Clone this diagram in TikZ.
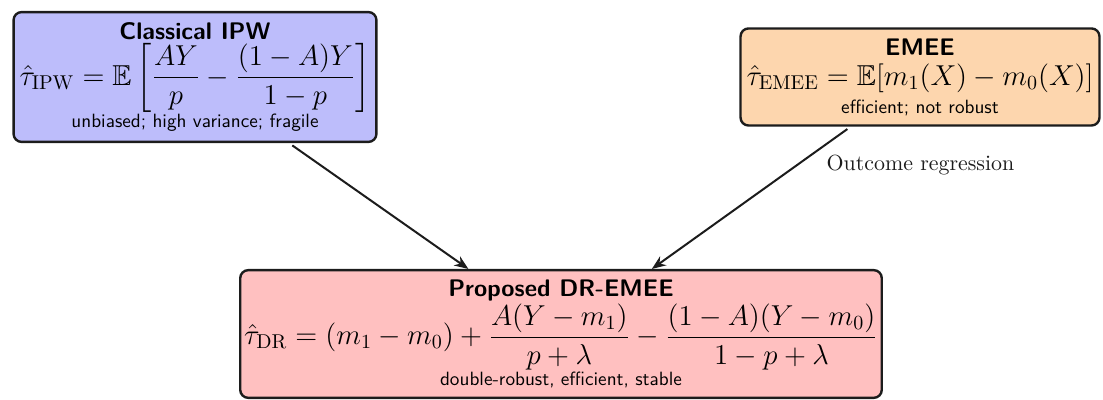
\documentclass[tikz,border=0pt]{standalone}
\usepackage{amsmath,amssymb}
\usepackage{xcolor}
\usepackage{tikz}
\usetikzlibrary{arrows.meta,positioning}
\definecolor{BoxIPW}{HTML}{BDBDFB}
\definecolor{BoxEMEE}{HTML}{FDD6AE}
\definecolor{BoxDR}{HTML}{FFC0C0}
\definecolor{BoxInk}{HTML}{1C1C1C}
\newcommand{\boxnote}{\fontsize{9.6}{11.5}\selectfont}

\begin{document}
\begin{tikzpicture}[x=0.5pt,y=0.5pt,>={Stealth[length=7pt,width=5.5pt]},
    estbox/.style={draw=BoxInk,line width=1.2pt,rounded corners=4pt,
      align=center,inner xsep=3pt,inner ysep=5pt,font=\sffamily},
    flow/.style={->,BoxInk,line width=1pt,shorten <=2pt}]
  \useasboundingbox (0,0) rectangle (1103,400);
  % the three estimators
  \node[estbox,fill=BoxIPW] (ipw) at (195,323)
    {{\large\bfseries Classical IPW}\\[1pt]
     {\Large $\displaystyle\hat{\tau}_{\mathrm{IPW}}=\mathbb{E}\left[\frac{AY}{p}-\frac{(1-A)Y}{1-p}\right]$}\\
     {\boxnote unbiased; high variance; fragile}};
  \node[estbox,fill=BoxEMEE] (emee) at (920,323)
    {{\large\bfseries EMEE}\\[3pt]
     {\Large $\hat{\tau}_{\mathrm{EMEE}}=\mathbb{E}[m_1(X)-m_0(X)]$}\\[2pt]
     {\boxnote efficient; not robust}};
  \node[estbox,fill=BoxDR,inner xsep=2pt] (dr) at (561,66)
    {{\large\bfseries Proposed DR-EMEE}\\
     {\Large $\displaystyle\hat{\tau}_{\mathrm{DR}}=(m_1-m_0)+\frac{A(Y-m_1)}{p+\lambda}-\frac{(1-A)(Y-m_0)}{1-p+\lambda}$}\\
     {\boxnote double-robust, efficient, stable}};
  % arrows into the proposed estimator
  \draw[flow] (ipw) -- (dr);
  \draw[flow] (emee) -- node[pos=0.27,right=11pt,text=BoxInk,
      font=\fontsize{10.95}{13}\selectfont] {Outcome regression} (dr);
\end{tikzpicture}
\end{document}
